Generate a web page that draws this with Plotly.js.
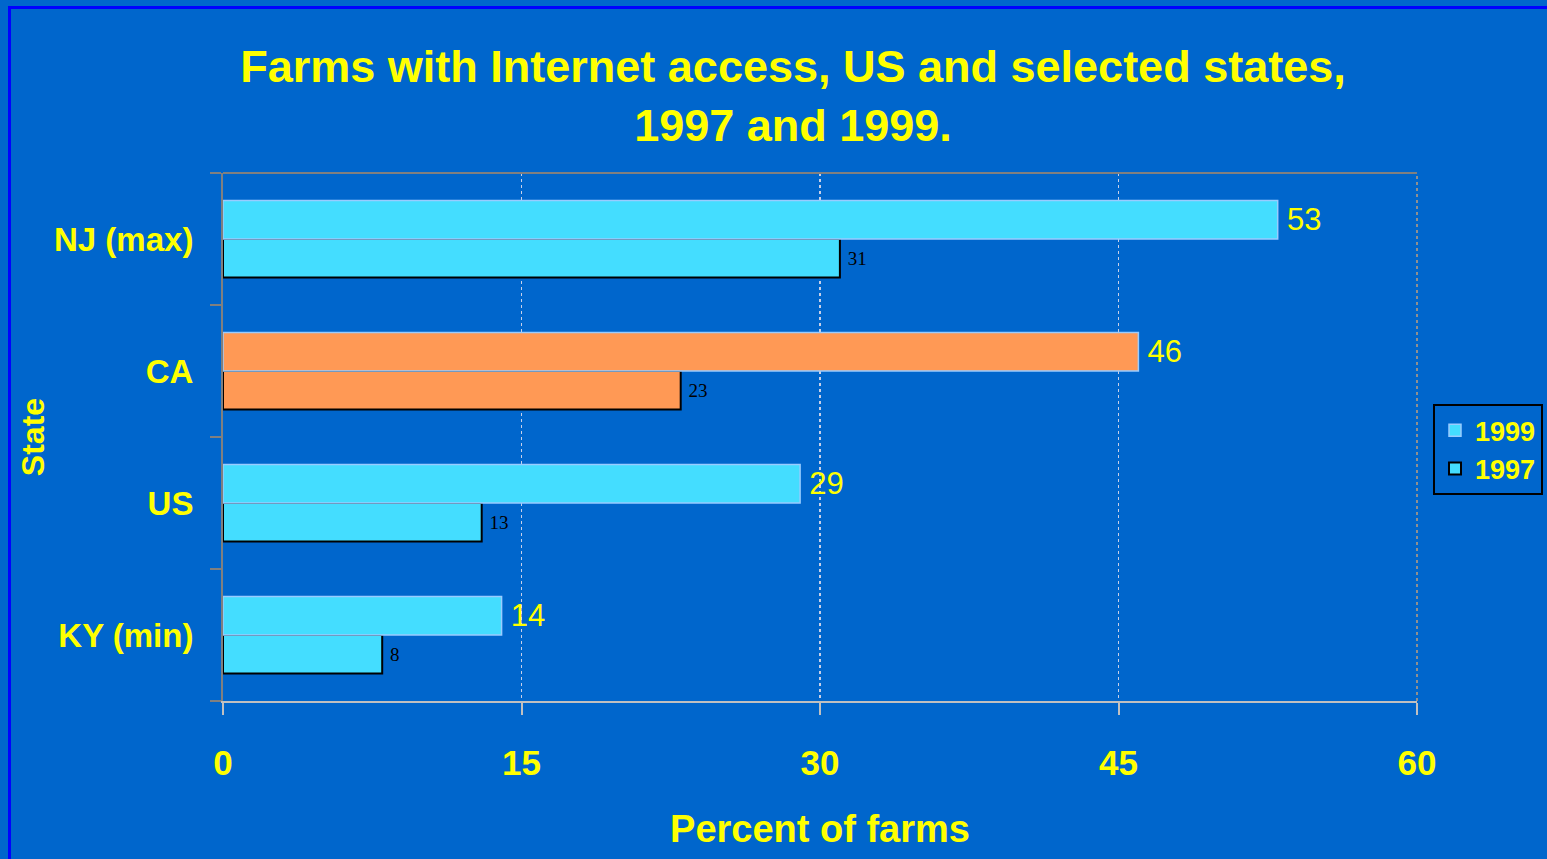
<!DOCTYPE html>
<html>
<head>
<meta charset="utf-8">
<script src="https://cdn.plot.ly/plotly-3.0.1.min.js"></script>
<style>
  html, body { margin:0; padding:0; background:#0066CC; overflow:hidden; }
  #chart { width:1547px; height:859px; }
  #frame { position:absolute; left:8px; top:6px; width:3000px; height:3000px;
           border-left:3px solid #0000FF; border-top:3px solid #0000FF; pointer-events:none; }
</style>
</head>
<body>
<div id="chart"></div>
<div id="frame"></div>
<script>
const categories = ['NJ (max)', 'CA', 'US', 'KY (min)'];
const values1999 = [53, 46, 29, 14];
const values1997 = [31, 23, 13, 8];
const barColors = ['#44DDFF', '#FF9955', '#44DDFF', '#44DDFF'];
const xTicks = [0, 15, 30, 45, 60];

const FONT = 'Liberation Sans, Arial, sans-serif';
const YEL = '#FFFF00';

const t1997 = {
  type: 'bar', orientation: 'h', name: '1997',
  y: categories, x: values1997,
  marker: { color: barColors, line: { color: '#000000', width: 2 } },
  text: values1997.map(v => '\u00a0' + v), textposition: 'outside', constraintext: 'none',
  textfont: { family: 'Liberation Serif, Times New Roman, serif', size: 19, color: '#000000' },
  cliponaxis: false, hoverinfo: 'x+y'
};
const t1999 = {
  type: 'bar', orientation: 'h', name: '1999',
  y: categories, x: values1999,
  marker: { color: barColors, line: { color: '#99CCFF', width: 1.5 } },
  text: values1999.map(v => '\u2009' + v), textposition: 'outside', constraintext: 'none',
  textfont: { family: FONT, size: 31, color: YEL },
  cliponaxis: false, hoverinfo: 'x+y'
};

const layout = {
  width: 1547, height: 859,
  paper_bgcolor: '#0066CC', plot_bgcolor: '#0066CC',
  margin: { l: 223, r: 130, t: 173, b: 158, autoexpand: false },
  barmode: 'group', bargap: 0.417, bargroupgap: 0,
  title: {
    text: 'Farms with Internet access, US and selected states,<br>1997 and 1999.',
    font: { family: FONT, size: 45, color: YEL, weight: 'bold' },
    x: 793 / 1547, xanchor: 'center', xref: 'container',
    y: 1 - 82 / 859, yanchor: 'top', yref: 'container'
  },
  xaxis: {
    range: [0, 60], tickvals: xTicks, ticktext: xTicks.map(String),
    showgrid: true, gridcolor: '#C8D0E8', griddash: 'dot', gridwidth: 1.5,
    zeroline: false,
    showline: true, linecolor: '#C0C0C0', linewidth: 2,
    ticks: 'outside', ticklen: 12, tickcolor: '#C0C0C0', tickwidth: 2,
    ticklabelstandoff: 18,
    tickfont: { family: FONT, size: 35, color: YEL, weight: 'bold' },
    title: { text: 'Percent of farms', font: { family: FONT, size: 38, color: YEL, weight: 'bold' }, standoff: 34 },
    fixedrange: true
  },
  yaxis: {
    type: 'category', categoryorder: 'array', categoryarray: categories.slice().reverse(),
    showgrid: false, zeroline: false,
    showline: true, linecolor: '#808080', linewidth: 2,
    ticks: 'outside', tickson: 'boundaries', ticklen: 11, tickcolor: '#808080', tickwidth: 2,
    ticklabelstandoff: 21,
    tickfont: { family: FONT, size: 33, color: YEL, weight: 'bold' },
    title: { text: 'State', font: { family: FONT, size: 32, color: YEL, weight: 'bold' }, standoff: 0 },
    fixedrange: true
  },
  legend: {
    x: 1.0134, xanchor: 'left', y: 0.562, yanchor: 'top',
    bgcolor: 'rgba(0,0,0,0)', bordercolor: '#000000', borderwidth: 2,
    traceorder: 'reversed', itemwidth: 30,
    font: { family: FONT, size: 27, color: YEL, weight: 'bold' }
  },
  shapes: [
    { type: 'line', xref: 'paper', yref: 'paper', x0: 0, x1: 1, y0: 1, y1: 1, line: { color: '#808080', width: 2 } },
    { type: 'line', xref: 'paper', yref: 'paper', x0: 1, x1: 1, y0: 0, y1: 1, line: { color: '#909090', width: 2, dash: 'dot' } }
  ],
  showlegend: true
};

Plotly.newPlot('chart', [t1997, t1999], layout, { displayModeBar: false, staticPlot: true });
</script>
</body>
</html>
